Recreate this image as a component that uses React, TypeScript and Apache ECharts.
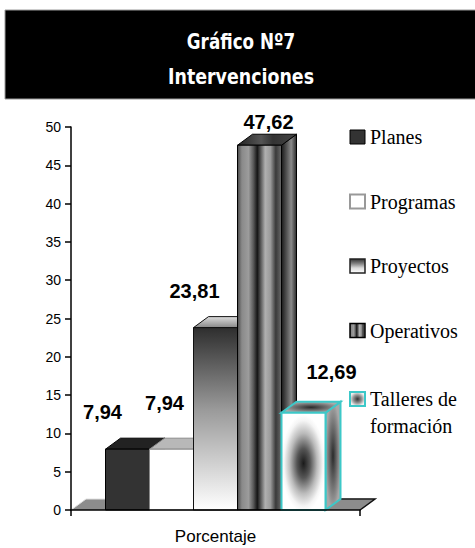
import React, { useEffect, useRef } from 'react';
import * as echarts from 'echarts';

// ---- data ----
const categories = ['Porcentaje'];
const seriesNames = ['Planes', 'Programas', 'Proyectos', 'Operativos', 'Talleres de formación'];
const values = [7.94, 7.94, 23.81, 47.62, 12.69];
const yMin = 0;
const yMax = 50;
const yInterval = 5;
const titleLines = ['Gráfico Nº7', 'Intervenciones'];

// ---- layout / style (not data) ----
const DX = 15;
const DY = -11;
const BAR_FRAC = 44 / 289;
const labelOffsets = [
  [-25, -37],
  [-7, -46],
  [-21, -37],
  [9, -23],
  [28, -41],
];

const lin = (x: number, y: number, x2: number, y2: number, stops: [number, string][]) => ({
  type: 'linear', x, y, x2, y2, global: false,
  colorStops: stops.map(([offset, color]) => ({ offset, color })),
});
const rad = (x: number, y: number, r: number, stops: [number, string][]) => ({
  type: 'radial', x, y, r, global: false,
  colorStops: stops.map(([offset, color]) => ({ offset, color })),
});

const operStops: [number, string][] = [
  [0, '#4a4a4a'], [0.1, '#8a8a8a'], [0.25, '#9c9c9c'], [0.36, '#5a5a5a'],
  [0.45, '#151515'], [0.53, '#5a5a5a'], [0.63, '#b0b0b0'], [0.75, '#9a9a9a'],
  [0.87, '#3a3a3a'], [1, '#6a6a6a'],
];

const faceStyles = [
  { front: '#333333', top: '#222222', side: '#1a1a1a', stroke: '#000', lw: 1 },
  { front: '#ffffff', top: '#b8b8b8', side: '#bbbbbb', stroke: '#8a8a8a', lw: 1 },
  {
    front: lin(0, 0, 0, 1, [[0, '#2e2e2e'], [0.45, '#9a9a9a'], [1, '#ffffff']]),
    top: lin(0, 1, 0, 0, [[0, '#888888'], [1, '#dddddd']]),
    side: '#777777', stroke: '#111', lw: 1,
  },
  {
    front: lin(0, 0, 1, 0, operStops),
    top: lin(0, 0, 1, 0, [[0, '#222'], [0.4, '#555'], [0.6, '#333'], [1, '#444']]),
    side: lin(0, 0, 1, 0, [[0, '#1a1a1a'], [0.35, '#555'], [0.65, '#8a8a8a'], [1, '#2a2a2a']]),
    stroke: '#000', lw: 1,
  },
  {
    front: rad(0.5, 0.52, 0.5, [[0, '#1a1a1a'], [0.3, '#555555'], [0.62, '#bbbbbb'], [0.88, '#f5f5f5'], [1, '#ffffff']]),
    top: rad(0.5, 0.5, 0.5, [[0, '#2a2a2a'], [1, '#aaaaaa']]),
    side: rad(0.5, 0.5, 0.5, [[0, '#2a2a2a'], [1, '#a8a8a8']]),
    stroke: '#3cc8c8', lw: 2,
  },
];

const legendIcons = [
  { color: '#333333', borderColor: '#000', borderWidth: 1 },
  { color: '#ffffff', borderColor: '#999', borderWidth: 2 },
  { color: lin(0, 0, 0, 1, [[0, '#333'], [0.35, '#888'], [0.65, '#ddd'], [1, '#fff']]), borderColor: '#222', borderWidth: 1.5 },
  { color: lin(0, 0, 1, 0, operStops), borderColor: '#000', borderWidth: 1.5 },
  { color: rad(0.5, 0.5, 0.5, [[0, '#333'], [0.6, '#999'], [1, '#eee']]), borderColor: '#3cc8c8', borderWidth: 2 },
];

const fmt = (v: number) => v.toFixed(2).replace('.', ',');

const makeRender = (i: number) => (params: any, api: any) => {
  const base = api.coord([api.value(0), 0]);
  const top = api.coord([api.value(0), api.value(1)]);
  const band = api.size([1, 0])[0];
  const barW = band * BAR_FRAC;
  const start = base[0] - (barW * seriesNames.length) / 2;
  const x0 = start + i * barW;
  const x1 = x0 + barW;
  const ty = top[1];
  const by = base[1];
  const s = faceStyles[i];
  const off = labelOffsets[i];
  return {
    type: 'group',
    children: [
      {
        type: 'polygon',
        shape: { points: [[x1, ty], [x1 + DX, ty + DY], [x1 + DX, by + DY], [x1, by]] },
        style: { fill: s.side, stroke: s.stroke, lineWidth: s.lw },
      },
      {
        type: 'polygon',
        shape: { points: [[x0, ty], [x1, ty], [x1 + DX, ty + DY], [x0 + DX, ty + DY]] },
        style: { fill: s.top, stroke: s.stroke, lineWidth: s.lw },
      },
      {
        type: 'rect',
        shape: { x: x0, y: ty, width: barW, height: by - ty },
        style: { fill: s.front, stroke: s.stroke, lineWidth: s.lw },
      },
      {
        type: 'text',
        style: {
          text: fmt(api.value(1)),
          x: (x0 + x1) / 2 + off[0],
          y: ty + off[1],
          align: 'center',
          verticalAlign: 'middle',
          fill: '#000',
          font: 'bold 20px "Liberation Sans", Arial, sans-serif',
        },
      },
    ],
  };
};

const floorRender = (params: any, api: any) => {
  const cs = params.coordSys;
  const by = api.coord([0, 0])[1];
  const xl = cs.x;
  const xr = cs.x + cs.width;
  return {
    type: 'group',
    children: [
      {
        type: 'polygon',
        shape: { points: [[xl, by], [xr, by], [xr + DX, by + DY], [xl + DX, by + DY]] },
        style: { fill: '#8c8c8c', stroke: null },
      },
      {
        type: 'polyline',
        shape: { points: [[xl, by], [xl + DX, by + DY], [xr + DX, by + DY]] },
        style: { stroke: '#e0e0e0', lineWidth: 1, fill: null },
      },
      {
        type: 'polyline',
        shape: { points: [[xr - 20, by + DY], [xr + DX, by + DY], [xr, by]] },
        style: { stroke: '#111', lineWidth: 1.5, fill: null },
      },
    ],
  };
};

export default function App() {
  const ref = useRef<HTMLDivElement>(null);
  useEffect(() => {
    if (!ref.current) return;
    const chart = echarts.init(ref.current, null, { renderer: 'svg' });
    const legendText = {
      fontFamily: '"Liberation Serif", "Times New Roman", serif',
      fontSize: 20,
      color: '#000',
    };
    chart.setOption({
      animation: false,
      backgroundColor: '#fff',
      textStyle: { fontFamily: '"Liberation Sans", Arial, sans-serif' },
      graphic: [
        {
          type: 'rect',
          shape: { x: 5, y: 10, width: 472, height: 89 },
          style: { fill: '#000', stroke: '#9a9a9a', lineWidth: 1 },
          z: 0,
        },
        ...titleLines.map((t, k) => ({
          type: 'text',
          x: 241,
          y: k === 0 ? 41 : 77,
          scaleX: k === 0 ? 0.8 : 0.83,
          style: {
            text: t,
            fill: '#fff',
            align: 'center',
            verticalAlign: 'middle',
            font: 'bold 21px "DejaVu Sans", sans-serif',
          },
          z: 1,
        })),
      ],
      grid: { left: 71, right: 115, top: 127, bottom: 38, containLabel: false },
      legend: [
        {
          orient: 'vertical',
          left: 349,
          top: 125,
          padding: 0,
          itemGap: 40.5,
          itemWidth: 15,
          itemHeight: 14,
          textStyle: { ...legendText, lineHeight: 24 },
          data: seriesNames.slice(0, 4).map((n, k) => ({ name: n, icon: 'rect', itemStyle: legendIcons[k] })),
        },
        {
          orient: 'vertical',
          left: 349,
          top: 358.5,
          padding: 0,
          itemWidth: 15,
          itemHeight: 14,
          textStyle: { ...legendText, lineHeight: 27 },
          formatter: () => '\nTalleres de\nformación',
          data: [{ name: seriesNames[4], icon: 'rect', itemStyle: legendIcons[4] }],
        },
      ],
      xAxis: {
        type: 'category',
        data: categories,
        z: 10,
        axisLine: { lineStyle: { color: '#000', width: 1.5 } },
        axisTick: { show: true, length: 6, lineStyle: { color: '#000', width: 1.5 } },
        axisLabel: { color: '#000', fontSize: 17, margin: 18 },
        splitLine: { show: false },
      },
      yAxis: {
        type: 'value',
        min: yMin,
        max: yMax,
        interval: yInterval,
        z: 10,
        axisLine: { show: true, lineStyle: { color: '#000', width: 1.5 } },
        axisTick: { show: true, length: 6, lineStyle: { color: '#000', width: 1.5 } },
        axisLabel: { color: '#000', fontSize: 14, margin: 10 },
        splitLine: { show: false },
      },
      series: [
        {
          type: 'custom',
          name: '__floor',
          silent: true,
          z: 1,
          data: [[0, 0]],
          renderItem: floorRender,
        },
        ...seriesNames.map((n, i) => ({
          type: 'custom',
          name: n,
          z: 2,
          data: [[0, values[i]]],
          encode: { x: 0, y: 1 },
          renderItem: makeRender(i),
        })),
      ],
    });
    return () => chart.dispose();
  }, []);
  return (
    <div
      ref={ref}
      style={{ position: 'fixed', left: 0, top: 0, width: 475, height: 548, background: '#fff' }}
    />
  );
}
